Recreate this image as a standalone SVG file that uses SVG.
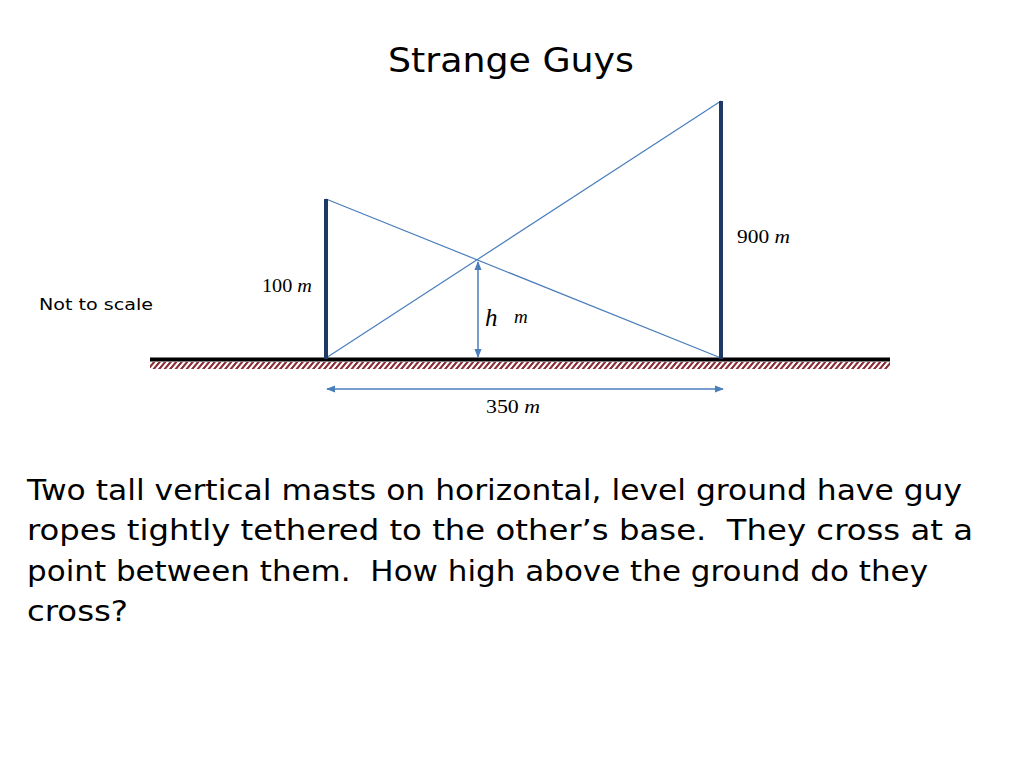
<svg xmlns="http://www.w3.org/2000/svg" width="1024" height="768" viewBox="0 0 1024 768">
<style>
.mast{stroke:#1f3864;stroke-width:4;fill:none}
.rope{stroke:#4a7ebb;stroke-width:1.2;fill:none}
.dim{stroke:#4a7ebb;stroke-width:1.5;fill:none}
.math{font-family:"Liberation Serif","DejaVu Serif",serif;font-size:19px;fill:#000}
.it{font-style:italic}
.big{font-size:25px}
.comic{font-family:"DejaVu Sans","Noto Sans",sans-serif;fill:#000;white-space:pre}
</style>
<defs>
<pattern id="hatch" patternUnits="userSpaceOnUse" width="5.5" height="8" patternTransform="skewX(-40)">
<rect width="5.5" height="8" fill="#fff"/>
<rect width="2.8" height="8" fill="#8b2f3a"/>
</pattern>
<marker id="ah" viewBox="0 0 10 10" refX="9" refY="5" markerWidth="9" markerHeight="9" orient="auto-start-reverse" markerUnits="userSpaceOnUse">
<path d="M0,1 L10,5 L0,9 z" fill="#4a7ebb"/>
</marker>
</defs>
<rect width="1024" height="768" fill="#fff"/>
<text class="comic" x="511" y="72" font-size="34" text-anchor="middle" textLength="246" lengthAdjust="spacingAndGlyphs">Strange Guys</text>
<g id="ground">
<rect x="150" y="362" width="740" height="7" fill="url(#hatch)"/>
<line x1="150" y1="359.5" x2="890" y2="359.5" stroke="#000" stroke-width="4"/>
</g>
<g id="connectors">
<line class="rope" x1="326" y1="199" x2="721" y2="358"/>
<line class="rope" x1="721" y1="101" x2="326" y2="358"/>
<line class="dim" x1="478" y1="262" x2="478" y2="357" marker-start="url(#ah)" marker-end="url(#ah)"/>
<line class="dim" x1="327" y1="389" x2="723" y2="389" marker-start="url(#ah)" marker-end="url(#ah)"/>
</g>
<g id="mast-left">
<line class="mast" x1="326" y1="199" x2="326" y2="359"/>
<text class="math" x="262" y="292" textLength="50" lengthAdjust="spacingAndGlyphs">100 <tspan class="it">m</tspan></text>
</g>
<g id="mast-right">
<line class="mast" x1="721" y1="101" x2="721" y2="359"/>
<text class="math" x="737" y="243" textLength="53" lengthAdjust="spacingAndGlyphs">900 <tspan class="it">m</tspan></text>
</g>
<g id="height-label">
<text class="math it big" x="485" y="326">h</text>
<text class="math it" x="514" y="323">m</text>
</g>
<g id="distance-label">
<text class="math" x="486" y="413" textLength="54" lengthAdjust="spacingAndGlyphs">350 <tspan class="it">m</tspan></text>
</g>
<text class="comic" x="39" y="310" font-size="16" textLength="114" lengthAdjust="spacingAndGlyphs">Not to scale</text>
<g id="question" font-size="29">
<text class="comic" x="27" y="500" textLength="935" lengthAdjust="spacingAndGlyphs">Two tall vertical masts on horizontal, level ground have guy</text>
<text class="comic" x="27" y="540" textLength="946" lengthAdjust="spacingAndGlyphs">ropes tightly tethered to the other’s base.  They cross at a</text>
<text class="comic" x="27" y="581" textLength="901" lengthAdjust="spacingAndGlyphs">point between them.  How high above the ground do they</text>
<text class="comic" x="27" y="621" textLength="101" lengthAdjust="spacingAndGlyphs">cross?</text>
</g>
</svg>
